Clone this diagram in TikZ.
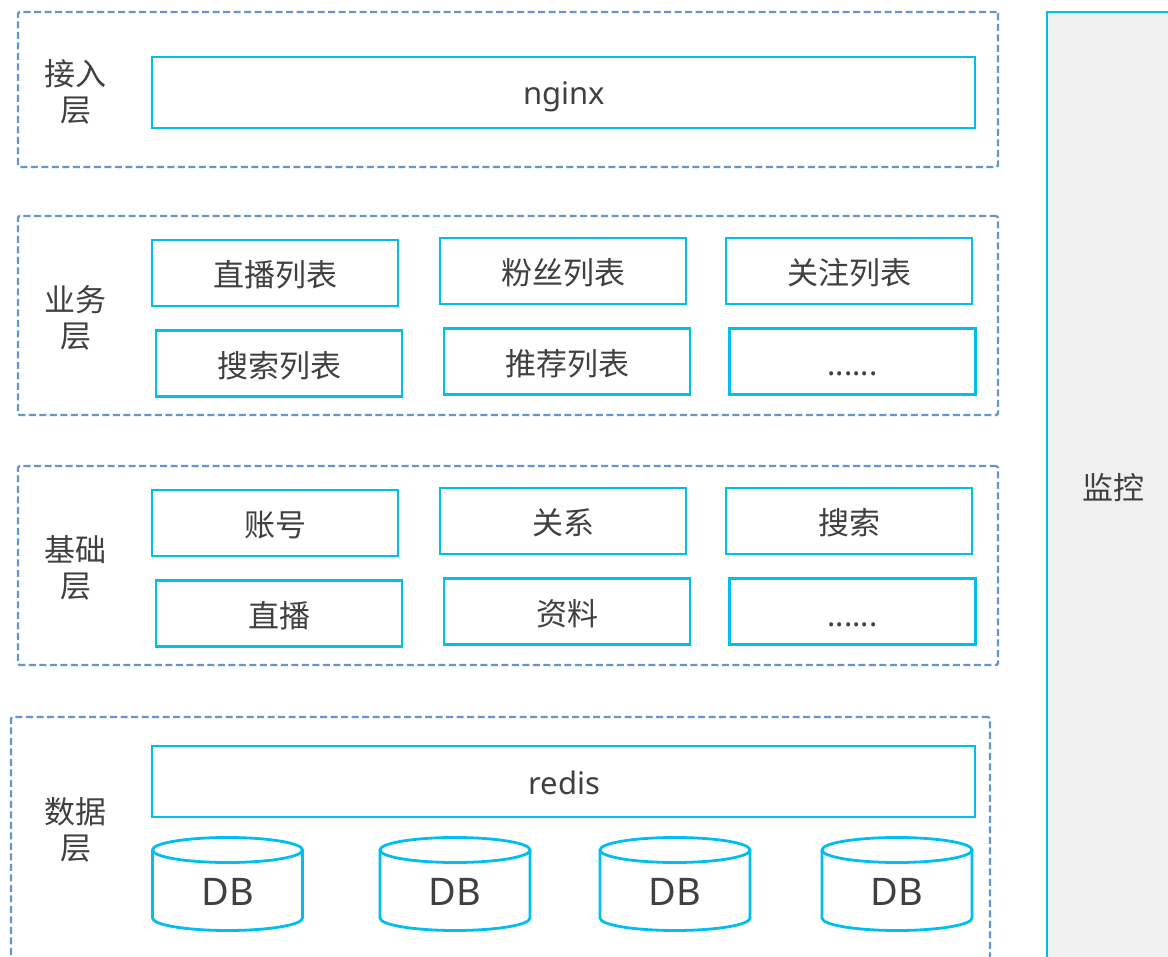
\documentclass[tikz,border=0pt]{standalone}
\usepackage{fontspec}
\setmainfont{Noto Sans}
\newfontfamily\cjk{Noto Sans CJK SC}
\definecolor{cy}{RGB}{0,190,240}
\definecolor{dsh}{RGB}{100,150,205}
\definecolor{txt}{RGB}{64,64,64}
\definecolor{mon}{RGB}{240,240,240}
\begin{document}
\begin{tikzpicture}[x=1pt,y=-1pt,
  layer/.style={draw=dsh, line width=2.4pt, dash pattern=on 7pt off 3.5pt, rounded corners=1.5pt, inner sep=0},
  cbox/.style={draw=cy, line width=2.8pt, inner sep=0, text=txt, font=\cjk\fontsize{31}{36}\selectfont},
  lbl/.style={text=txt, align=center, font=\cjk\fontsize{31}{36}\selectfont, inner sep=0},
  lat/.style={text=txt, font=\fontsize{31}{36}\selectfont, inner sep=0, anchor=base},
  ctext/.style={text=txt, font=\cjk\fontsize{31}{36}\selectfont, inner sep=0},
  cyl/.style={draw=cy, line width=2.8pt},
  sbox/.style={draw=cy, line width=2.8pt, inner sep=0, minimum width=246, minimum height=66}]
\clip (0,0) rectangle (1168,957);
\fill[white] (0,0) rectangle (1168,957);
% layers
\node[layer, minimum width=980, minimum height=155] (L1) at (508,89.5) {};
\node[layer, minimum width=980, minimum height=199] (L2) at (508,315.5) {};
\node[layer, minimum width=980, minimum height=199] (L3) at (508,565.5) {};
\node[layer, minimum width=979, minimum height=273] (L4) at (500.5,853.5) {};
% labels
\node[lbl] (t1) at (76,92) {接入\\层};
\node[lbl] (t2) at (76,318) {业务\\层};
\node[lbl] (t3) at (76,568) {基础\\层};
\node[lbl] (t4) at (76,830) {数据\\层};
% access
\node[sbox, minimum width=823, minimum height=71] (nginx) at (563.5,92.5) {};
\node[lat] (nginxt) at (564.5,105) {nginx};
% business
\node[sbox] (b1) at (275,273) {};
\node[sbox] (b2) at (563,271) {};
\node[sbox] (b3) at (849,271) {};
\node[sbox] (b4) at (279,363.5) {};
\node[sbox] (b5) at (567,361.5) {};
\node[sbox] (b6) at (852.5,361.5) {};
\node[ctext] at ([yshift=-2pt]b1.center) {直播列表};
\node[ctext] at ([yshift=-2pt]b2.center) {粉丝列表};
\node[ctext] at ([yshift=-2pt]b3.center) {关注列表};
\node[ctext] at ([yshift=-2pt]b4.center) {搜索列表};
\node[ctext] at ([yshift=-2pt]b5.center) {推荐列表};
\node[lat] at (852.5,376) {......};
% base
\node[sbox] (c1) at (275,523) {};
\node[sbox] (c2) at (563,521) {};
\node[sbox] (c3) at (849,521) {};
\node[sbox] (c4) at (279,613.5) {};
\node[sbox] (c5) at (567,611.5) {};
\node[sbox] (c6) at (852.5,611.5) {};
\node[ctext] at ([yshift=-2pt]c1.center) {账号};
\node[ctext] at ([yshift=-2pt]c2.center) {关系};
\node[ctext] at ([yshift=-2pt]c3.center) {搜索};
\node[ctext] at ([yshift=-2pt]c4.center) {直播};
\node[ctext] at ([yshift=-2pt]c5.center) {资料};
\node[lat] at (852.5,626) {......};
% data
\node[sbox, minimum width=823, minimum height=71] (redis) at (563.5,781.5) {};
\node[lat] (redist) at (564.5,794) {redis};
\foreach \x/\i in {227.5/1,455/2,675/3,897/4}{
  \draw[cyl] (\x-75,850) -- (\x-75,918) arc[start angle=180,end angle=0,x radius=75,y radius=12.5] -- (\x+75,850);
  \draw[cyl] (\x,850) ellipse[x radius=75,y radius=12.5];
  \node[lat, font=\fontsize{38}{40}\selectfont] (db\i) at (\x,905) {DB};
}
% monitor
\node[draw=cy, fill=mon, line width=2.8pt, minimum width=132, minimum height=950, inner sep=0] (mon) at (1113,487) {};
\node[lbl] (montxt) at (1113,488) {监控};
\end{tikzpicture}
\end{document}
